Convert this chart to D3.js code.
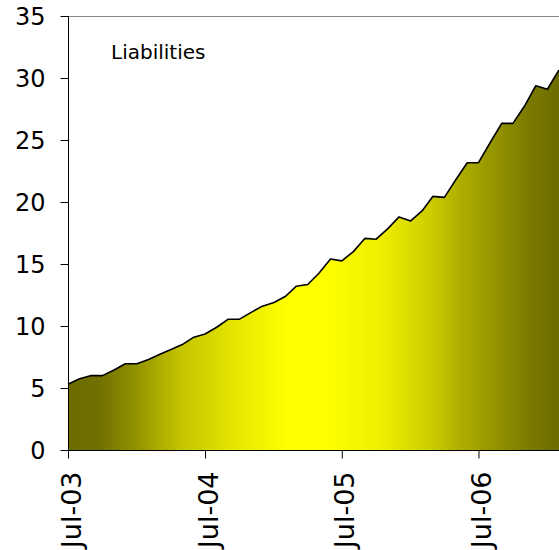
<!DOCTYPE html>
<html>
<head>
<meta charset="utf-8">
<script src="https://cdn.jsdelivr.net/npm/d3@7"></script>
<style>
  html, body { margin: 0; padding: 0; background: #fff; }
  svg { display: block; }
  text { font-family: "DejaVu Sans", Verdana, sans-serif; fill: #000; }
</style>
</head>
<body>
<svg id="chart" width="559" height="550"></svg>
<script>
// Monthly liabilities, Jul-03 through Feb-07
const months = d3.range(44).map(i => new Date(2003, 6 + i, 1));
const liabilities = [
  5.3, 5.75, 6.0, 6.0, 6.45, 6.95, 6.95, 7.3, 7.7, 8.1, 8.5, 9.1,
  9.35, 9.9, 10.55, 10.55, 11.1, 11.6, 11.9, 12.4, 13.2, 13.35, 14.25, 15.4,
  15.25, 16.0, 17.07, 17.0, 17.85, 18.8, 18.47, 19.3, 20.45, 20.37, 21.77, 23.17,
  23.17, 24.78, 26.34, 26.34, 27.74, 29.38, 29.09, 30.65
];
const yTicks = [0, 5, 10, 15, 20, 25, 30, 35];
const xTickDates = [new Date(2003, 6, 1), new Date(2004, 6, 1), new Date(2005, 6, 1), new Date(2006, 6, 1)];
const seriesName = "Liabilities";

const data = months.map((d, i) => ({ date: d, value: liabilities[i] }));

const svg = d3.select("#chart");
const m = { left: 68, right: 559, top: 16, bottom: 450 };

const x = d3.scaleTime()
  .domain([months[0], months[months.length - 1]])
  .range([m.left, m.right]);
const y = d3.scaleLinear().domain([0, 35]).range([m.bottom, m.top]);

// Horizontal fill: olive at both sides, bright yellow in the middle
const grad = svg.append("defs").append("linearGradient")
  .attr("id", "fillGrad")
  .attr("gradientUnits", "userSpaceOnUse")
  .attr("x1", m.left).attr("x2", m.right).attr("y1", 0).attr("y2", 0);
[
  [0.00, "#6c6c00"], [0.065, "#717100"], [0.13, "#8e8e00"], [0.23, "#c4c400"],
  [0.34, "#e6e600"], [0.425, "#fafa00"], [0.45, "#ffff00"], [0.53, "#ffff00"],
  [0.64, "#eeee00"], [0.74, "#cccc00"], [0.80, "#aeae00"], [0.875, "#929200"],
  [0.94, "#7a7a00"], [1.00, "#6c6c00"]
].forEach(([o, c]) => grad.append("stop").attr("offset", o).attr("stop-color", c));

// Plot frame top edge
svg.append("line")
  .attr("x1", m.left).attr("x2", m.right).attr("y1", m.top + 0.5).attr("y2", m.top + 0.5)
  .attr("stroke", "#8a8a8a").attr("stroke-width", 1);

const area = d3.area()
  .x(d => x(d.date))
  .y0(y(0))
  .y1(d => y(d.value));
const line = d3.line()
  .x(d => x(d.date))
  .y(d => y(d.value));

svg.append("path").datum(data)
  .attr("d", area)
  .attr("fill", "url(#fillGrad)");
svg.append("path").datum(data)
  .attr("d", line)
  .attr("fill", "none")
  .attr("stroke", "#000")
  .attr("stroke-width", 1.6)
  .attr("stroke-linejoin", "round");

// Y axis
const yAxis = svg.append("g")
  .attr("transform", `translate(${m.left + 0.5},0)`)
  .call(d3.axisLeft(y).tickValues(yTicks).tickSize(8).tickPadding(15).tickFormat(d3.format("d")));
yAxis.select(".domain").attr("stroke", "#000").attr("d", `M0,${m.top}V${m.bottom}`);
yAxis.selectAll(".tick line").attr("stroke", "#000");
yAxis.selectAll(".tick text")
  .attr("font-size", 24)
  .attr("font-family", "DejaVu Sans, Verdana, sans-serif")
  .attr("fill", "#000")
  .attr("dy", "0.36em");

// X axis with vertical month labels
const xAxis = svg.append("g")
  .attr("transform", `translate(0,${m.bottom + 0.5})`)
  .call(d3.axisBottom(x).tickValues(xTickDates).tickSize(8).tickFormat(d3.timeFormat("%b-%y")));
xAxis.select(".domain").attr("stroke", "#000").attr("d", `M${m.left},0H${m.right}`);
xAxis.selectAll(".tick line").attr("stroke", "#000");
xAxis.selectAll(".tick text")
  .attr("font-size", 27)
  .attr("font-family", "DejaVu Sans, Verdana, sans-serif")
  .attr("fill", "#000")
  .attr("text-anchor", "end")
  .attr("x", 0).attr("y", 0).attr("dy", 0)
  .attr("transform", "translate(12,21) rotate(-90)");

// Series label
svg.append("text")
  .attr("x", 111).attr("y", 59)
  .attr("font-size", 20)
  .text(seriesName);
</script>
</body>
</html>
